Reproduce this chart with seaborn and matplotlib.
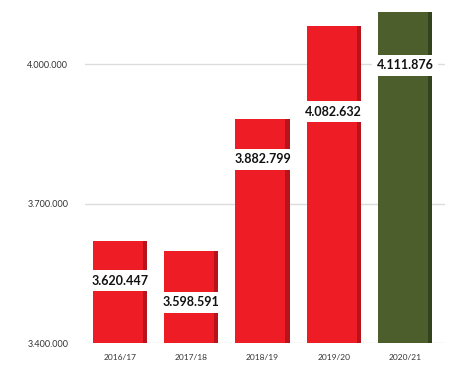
import matplotlib
matplotlib.use("Agg")
import matplotlib.pyplot as plt
import matplotlib.ticker as mticker
import seaborn as sns
import pandas as pd

# ── Data ──────────────────────────────────────────────────────────────────────
seasons = ["2016/17", "2017/18", "2018/19", "2019/20", "2020/21"]
values = [3620447, 3598591, 3882799, 4082632, 4111876]
yticks = [3400000, 3700000, 4000000]

# where the value boxes sit, as a share of the bar above the baseline
label_frac = [0.61, 0.44, 0.82, 0.73, 0.84]

RED = "#ee1c25"
GREEN = "#4b5e2b"
colors = [RED, RED, RED, RED, GREEN]
side = ["#b8121a" if c == RED else "#34421d" for c in colors]


def dots(v, pos=None):
    return f"{int(v):,}".replace(",", ".")


df = pd.DataFrame({"season": seasons, "value": values})

sns.set_theme(style="white")
plt.rcParams["font.family"] = ["Lato", "DejaVu Sans"]
fig = plt.figure(figsize=(4.61, 3.78), dpi=100)
ax = fig.add_axes([85 / 461, 35 / 378, 360 / 461, 338 / 378])

sns.barplot(data=df, x="season", y="value", hue="season", palette=colors,
            legend=False, width=0.76, ax=ax, saturation=1,
            edgecolor="none", linewidth=0, zorder=3)

# darker right-hand face for a bit of depth
for patch, c in zip(list(ax.patches), side):
    x0, w, h = patch.get_x(), patch.get_width(), patch.get_height()
    ax.bar(x0 + w * 0.92, h, width=w * 0.08, bottom=patch.get_y(), align="edge",
           color=c, edgecolor="none", linewidth=0, zorder=4)

ax.set_ylim(3400000, 4128000)
ax.set_xlim(-0.49, 4.56)
ax.set_yticks(yticks)
ax.yaxis.set_major_formatter(mticker.FuncFormatter(dots))
ax.grid(axis="y", color="#dcdcdc", lw=1.0, zorder=0)
ax.set_axisbelow(True)
for s in ax.spines.values():
    s.set_visible(False)
ax.tick_params(axis="y", labelsize=6.5, colors="#333333", pad=12, length=0)
ax.tick_params(axis="x", labelsize=6, colors="#333333", pad=8, length=0)
ax.set_xlabel("")
ax.set_ylabel("")

for i, (v, f) in enumerate(zip(values, label_frac)):
    ypos = 3400000 + (v - 3400000) * f
    ax.text(i, ypos, dots(v), ha="center", va="center", fontsize=9,
            fontweight="bold", color="#111111", zorder=6,
            bbox=dict(boxstyle="square,pad=0.35", fc="white", ec="none"))

fig.savefig("out.png", dpi=100)
